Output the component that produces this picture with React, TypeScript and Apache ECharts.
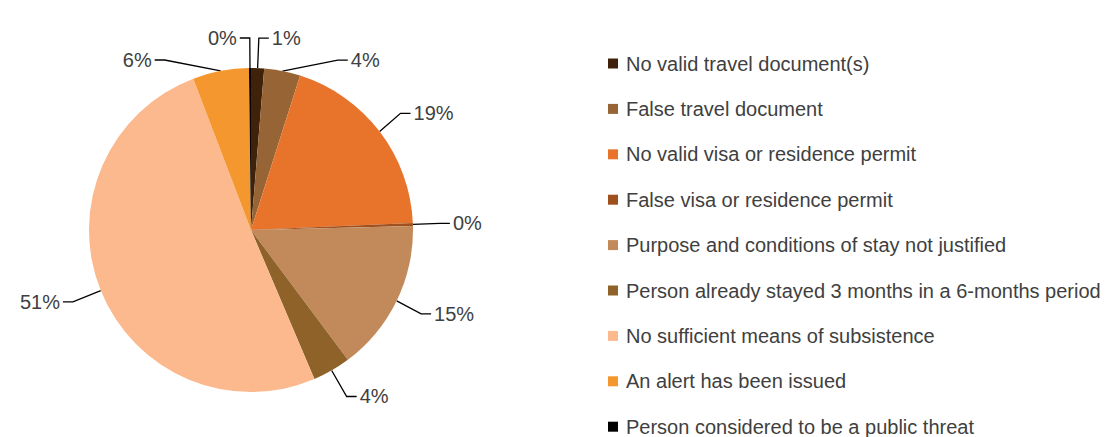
import React, { useEffect, useRef } from "react";
import * as echarts from "echarts";

const categories = [
  "No valid travel document(s)",
  "False travel document",
  "No valid visa or residence permit",
  "False visa or residence permit",
  "Purpose and conditions of stay not justified",
  "Person already stayed 3 months in a 6-months period",
  "No sufficient means of subsistence",
  "An alert has been issued",
  "Person considered to be a public threat",
];
const values = [1.3, 3.6, 19.4, 0.3, 15.2, 3.8, 50.6, 5.6, 0.2];
const colors = [
  "#3f2209",
  "#976535",
  "#e8742b",
  "#a0501f",
  "#c28a5a",
  "#8e6228",
  "#fbb98d",
  "#f5972f",
  "#000000",
];

const FONT = "'Liberation Sans', Arial, sans-serif";

export default function App() {
  const ref = useRef<HTMLDivElement>(null);
  useEffect(() => {
    if (!ref.current) return;
    const chart = echarts.init(ref.current, undefined, { renderer: "svg" });
    chart.setOption({
      animation: false,
      backgroundColor: "#ffffff",
      color: colors,
      legend: {
        type: "plain",
        orient: "vertical",
        left: 603,
        top: 47,
        height: 420,
        itemWidth: 10,
        itemHeight: 10,
        itemGap: 22.4,
        icon: "rect",
        textStyle: { fontSize: 20, color: "#404040", fontFamily: FONT, lineHeight: 23, padding: [0, 0, 0, 3] },
        data: categories,
      },
      series: [
        {
          type: "pie",
          center: [251, 230],
          radius: 162,
          startAngle: 90,
          clockwise: true,
          avoidLabelOverlap: true,
          minAngle: 0,
          itemStyle: { borderWidth: 0 },
          label: {
            show: true,
            formatter: (p: any) => Math.round(p.value) + "%",
            fontSize: 20,
            color: "#404040",
            fontFamily: FONT,
            distanceToLabelLine: 3,
          },
          labelLine: {
            show: true,
            length: 30,
            length2: 10,
            lineStyle: { color: "#000000", width: 1.3 },
          },
          emphasis: { disabled: true },
          data: categories.map((name, i) => ({ name, value: values[i] })),
        },
      ],
    });
    return () => chart.dispose();
  }, []);
  return (
    <div
      ref={ref}
      style={{ position: "fixed", left: 0, top: 0, width: 1108, height: 437, background: "#fff" }}
    />
  );
}
